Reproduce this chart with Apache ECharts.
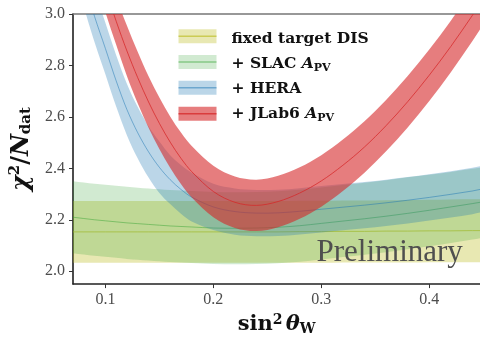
<!DOCTYPE html>
<html>
<head>
<meta charset="utf-8">
<script src="https://cdn.jsdelivr.net/npm/echarts@6/dist/echarts.min.js"></script>
<style>
  html, body { margin: 0; padding: 0; background: #fff; }
  #chart { width: 480px; height: 341px; }
</style>
</head>
<body>
<div id="chart"></div>
<script>
// sin^2(theta_W) sample points shared by every curve
const xs = [0.07, 0.08, 0.09, 0.10, 0.11, 0.12, 0.13, 0.14, 0.15, 0.16, 0.17, 0.18,
            0.20, 0.22, 0.24, 0.26, 0.28, 0.30, 0.32, 0.34, 0.36, 0.38, 0.40, 0.42, 0.44, 0.447];

// fixed target DIS
const disMid  = [2.153,2.153,2.153,2.153,2.153,2.153,2.153,2.153,2.153,2.153,2.153,2.153,
                 2.153,2.153,2.153,2.153,2.154,2.154,2.155,2.155,2.156,2.156,2.157,2.157,2.158,2.158];
const disLow  = [2.033,2.033,2.033,2.033,2.033,2.033,2.033,2.033,2.033,2.033,2.033,2.033,
                 2.033,2.033,2.033,2.033,2.033,2.033,2.034,2.034,2.034,2.034,2.035,2.035,2.035,2.035];
const disHigh = [2.273,2.273,2.273,2.273,2.273,2.273,2.273,2.273,2.273,2.273,2.273,2.273,
                 2.273,2.273,2.273,2.273,2.274,2.274,2.275,2.275,2.276,2.277,2.278,2.279,2.280,2.280];

// + SLAC A_PV
const slacMid  = [2.210,2.205,2.200,2.196,2.192,2.188,2.185,2.182,2.179,2.176,2.174,2.172,
                  2.168,2.167,2.168,2.171,2.177,2.186,2.195,2.204,2.214,2.225,2.237,2.250,2.263,2.268];
const slacLow  = [2.070,2.065,2.060,2.056,2.052,2.048,2.045,2.042,2.039,2.036,2.034,2.032,
                  2.028,2.027,2.028,2.031,2.037,2.046,2.055,2.064,2.074,2.085,2.097,2.110,2.123,2.128];
const slacHigh = [2.350,2.345,2.340,2.336,2.332,2.328,2.325,2.322,2.319,2.316,2.314,2.312,
                  2.308,2.307,2.308,2.311,2.317,2.326,2.335,2.344,2.354,2.365,2.375,2.386,2.398,2.402];

// + HERA
const heraMid  = [3.300,3.130,2.990,2.866,2.740,2.628,2.538,2.464,2.404,2.356,2.318,2.288,
                  2.250,2.232,2.226,2.227,2.233,2.241,2.249,2.257,2.266,2.276,2.287,2.299,2.312,2.318];
const heraLow  = [3.200,3.030,2.890,2.766,2.640,2.528,2.438,2.364,2.304,2.261,2.223,2.193,
                  2.160,2.142,2.136,2.137,2.143,2.151,2.159,2.167,2.176,2.186,2.197,2.209,2.222,2.228];
const heraHigh = [3.400,3.230,3.090,2.966,2.840,2.728,2.638,2.564,2.504,2.451,2.413,2.383,
                  2.340,2.322,2.316,2.317,2.323,2.331,2.339,2.347,2.356,2.366,2.377,2.389,2.402,2.408];

// + JLab6 A_PV
const jlabMid  = [3.550,3.386,3.237,3.099,2.972,2.856,2.752,2.658,2.575,2.502,2.439,2.387,
                  2.310,2.268,2.256,2.271,2.304,2.351,2.412,2.483,2.566,2.659,2.762,2.874,2.995,3.040];
const jlabLow  = [3.458,3.294,3.145,3.007,2.880,2.758,2.652,2.558,2.475,2.402,2.339,2.287,
                  2.210,2.168,2.156,2.171,2.204,2.251,2.312,2.383,2.466,2.559,2.662,2.774,2.895,2.940];
const jlabHigh = [3.642,3.478,3.329,3.191,3.064,2.954,2.852,2.758,2.675,2.602,2.539,2.487,
                  2.410,2.368,2.356,2.371,2.404,2.451,2.512,2.583,2.666,2.759,2.862,2.974,3.095,3.140];

// axis ticks
const xTicks = [0.1, 0.2, 0.3, 0.4];
const yTicks = [2.0, 2.2, 2.4, 2.6, 2.8, 3.0];

// legend entries (rich-text markup)
const legendLabels = [
  '{b|fixed target DIS}',
  '{b|+ SLAC }{bi|A}{sub|PV}',
  '{b|+ HERA}',
  '{b|+ JLab6 }{bi|A}{sub|PV}'
];

const bands = [
  { key: 'dis',  mid: disMid,  low: disLow,  high: disHigh,
    fill: 'rgba(188,189,34,0.35)', line: 'rgba(188,189,34,0.65)' },
  { key: 'slac', mid: slacMid, low: slacLow, high: slacHigh,
    fill: 'rgba(44,160,44,0.22)',  line: 'rgba(44,160,44,0.45)' },
  { key: 'hera', mid: heraMid, low: heraLow, high: heraHigh,
    fill: 'rgba(31,119,180,0.30)', line: 'rgba(31,119,180,0.50)' },
  { key: 'jlab', mid: jlabMid, low: jlabLow, high: jlabHigh,
    fill: 'rgba(214,39,40,0.60)',  line: 'rgba(214,39,40,0.75)' }
];

// Smooth cubic Hermite segments through pixel points (finite-difference slopes).
function hermiteSegments(pts) {
  const n = pts.length;
  const m = pts.map((p, i) => {
    const a = pts[Math.max(0, i - 1)], b = pts[Math.min(n - 1, i + 1)];
    return (b[1] - a[1]) / (b[0] - a[0]);
  });
  let d = '';
  for (let i = 0; i < n - 1; i++) {
    const p = pts[i], q = pts[i + 1], h = q[0] - p[0];
    d += ' C' + (p[0] + h / 3) + ',' + (p[1] + m[i] * h / 3) + ' ' +
         (q[0] - h / 3) + ',' + (q[1] - m[i + 1] * h / 3) + ' ' + q[0] + ',' + q[1];
  }
  return d;
}

function bandRenderer(b) {
  return function (params, api) {
    if (params.dataIndexInside !== 0) return;
    const n = xs.length;
    const up = [], lo = [], mid = [];
    for (let j = 0; j < n; j++) {
      const x = api.value(0, j);
      lo.push(api.coord([x, api.value(1, j)]));
      mid.push(api.coord([x, api.value(2, j)]));
      up.push(api.coord([x, api.value(3, j)]));
    }
    const loRev = lo.slice().reverse();
    const area = 'M' + up[0][0] + ',' + up[0][1] + hermiteSegments(up) +
                 ' L' + loRev[0][0] + ',' + loRev[0][1] + hermiteSegments(loRev) + ' Z';
    const line = 'M' + mid[0][0] + ',' + mid[0][1] + hermiteSegments(mid);
    const cs = params.coordSys;
    return {
      type: 'group',
      clipPath: { type: 'rect', shape: { x: cs.x, y: cs.y, width: cs.width, height: cs.height } },
      children: [
        { type: 'path', shape: { pathData: area }, style: { fill: b.fill, stroke: null } },
        { type: 'path', shape: { pathData: line }, style: { fill: null, stroke: b.line, lineWidth: 1 } }
      ]
    };
  };
}

const series = bands.map((b, k) => ({
  type: 'custom',
  name: b.key,
  z: 2 + k,
  silent: true,
  clip: true,
  encode: { x: 0, y: [1, 2, 3] },
  data: xs.map((x, i) => [x, b.low[i], b.mid[i], b.high[i]]),
  renderItem: bandRenderer(b)
}));

const serif = 'DejaVu Serif';
const tickFont = { fontFamily: 'Liberation Serif', fontSize: 16, color: '#4d4d4d' };

// legend: band swatch with centre line, then label
const legendGraphics = [];
const legendCenters = [36.3, 62.0, 87.8, 113.7];
const legendTextY = [39.0, 63.8, 89.2, 114.2];
bands.forEach((b, i) => {
  legendGraphics.push({
    type: 'rect', left: 178.5, top: legendCenters[i] - 7, z: 100,
    shape: { width: 38, height: 14 }, style: { fill: b.fill }
  });
  legendGraphics.push({
    type: 'line', z: 101,
    shape: { x1: 178.5, y1: legendCenters[i], x2: 216.5, y2: legendCenters[i] },
    style: { stroke: b.line, lineWidth: 1.5 }
  });
  legendGraphics.push({
    type: 'text', x: 231.5, y: legendTextY[i], z: 102,
    style: {
      text: legendLabels[i], verticalAlign: 'middle', fill: '#111',
      rich: {
        b:   { fontFamily: serif, fontWeight: 'bold', fontSize: 15.5, fill: '#111' },
        bi:  { fontFamily: serif, fontWeight: 'bold', fontStyle: 'italic', fontSize: 15.5, fill: '#111' },
        sub: { fontFamily: serif, fontWeight: 'bold', fontSize: 11, fill: '#111', padding: [8, 0, 0, 0] }
      }
    }
  });
});

legendGraphics.push({
  type: 'text', x: 316.5, y: 253, z: 103,
  style: {
    text: 'Preliminary', verticalAlign: 'middle',
    fontFamily: 'Liberation Serif', fontSize: 31, fill: '#4f4f4f'
  }
});

const chart = echarts.init(document.getElementById('chart'), null, { renderer: 'canvas' });
chart.setOption({
  animation: false,
  backgroundColor: '#fff',
  grid: { left: 73, right: 0, top: 14, bottom: 47, containLabel: false },
  xAxis: [{
    type: 'value', min: 0.07, max: 0.447, position: 'bottom',
    name: '{rm|sin}{sup|2}{sp| }{it|θ}{sub|W}',
    nameLocation: 'middle', nameGap: 15,
    nameTextStyle: {
      rich: {
        rm:  { fontFamily: serif, fontWeight: 'bold', fontSize: 21, color: '#111' },
        it:  { fontFamily: serif, fontWeight: 'bold', fontStyle: 'italic', fontSize: 21, color: '#111' },
        sp:  { fontFamily: serif, fontSize: 10 },
        sup: { fontFamily: serif, fontWeight: 'bold', fontSize: 14, color: '#111', padding: [0, 0, 10, 0] },
        sub: { fontFamily: serif, fontWeight: 'bold', fontSize: 14, color: '#111', padding: [8, 0, 0, 0] }
      }
    },
    axisLine: { show: true, onZero: false, lineStyle: { color: '#222', width: 1.5 } },
    axisTick: { show: true, length: 4, customValues: xTicks, lineStyle: { color: '#333' } },
    axisLabel: Object.assign({ margin: 8, customValues: xTicks,
      formatter: v => v.toFixed(1) }, tickFont),
    splitLine: { show: false }
  }, {
    type: 'value', min: 0.07, max: 0.447, position: 'top',
    axisLine: { show: true, onZero: false, lineStyle: { color: '#777', width: 1.5 } },
    axisTick: { show: false }, axisLabel: { show: false }, splitLine: { show: false }
  }],
  yAxis: {
    type: 'value', min: 1.95, max: 3.0,
    name: '{it|χ}{sup|2}{rm|/}{it|N}{sub|dat}',
    nameLocation: 'middle', nameRotate: 90, nameGap: 37,
    nameTextStyle: {
      rich: {
        rm:  { fontFamily: serif, fontWeight: 'bold', fontSize: 24, color: '#111' },
        it:  { fontFamily: serif, fontWeight: 'bold', fontStyle: 'italic', fontSize: 24, color: '#111' },
        sup: { fontFamily: serif, fontWeight: 'bold', fontSize: 15, color: '#111', padding: [0, 0, 12, 0] },
        sub: { fontFamily: serif, fontWeight: 'bold', fontSize: 15, color: '#111', padding: [10, 0, 0, 0] }
      }
    },
    axisLine: { show: true, onZero: false, lineStyle: { color: '#111', width: 1.5 } },
    axisTick: { show: true, length: 4, customValues: yTicks, lineStyle: { color: '#333' } },
    axisLabel: Object.assign({ margin: 8, customValues: yTicks,
      formatter: v => v.toFixed(1) }, tickFont),
    splitLine: { show: false }
  },
  graphic: legendGraphics,
  series: series
});
</script>
</body>
</html>
